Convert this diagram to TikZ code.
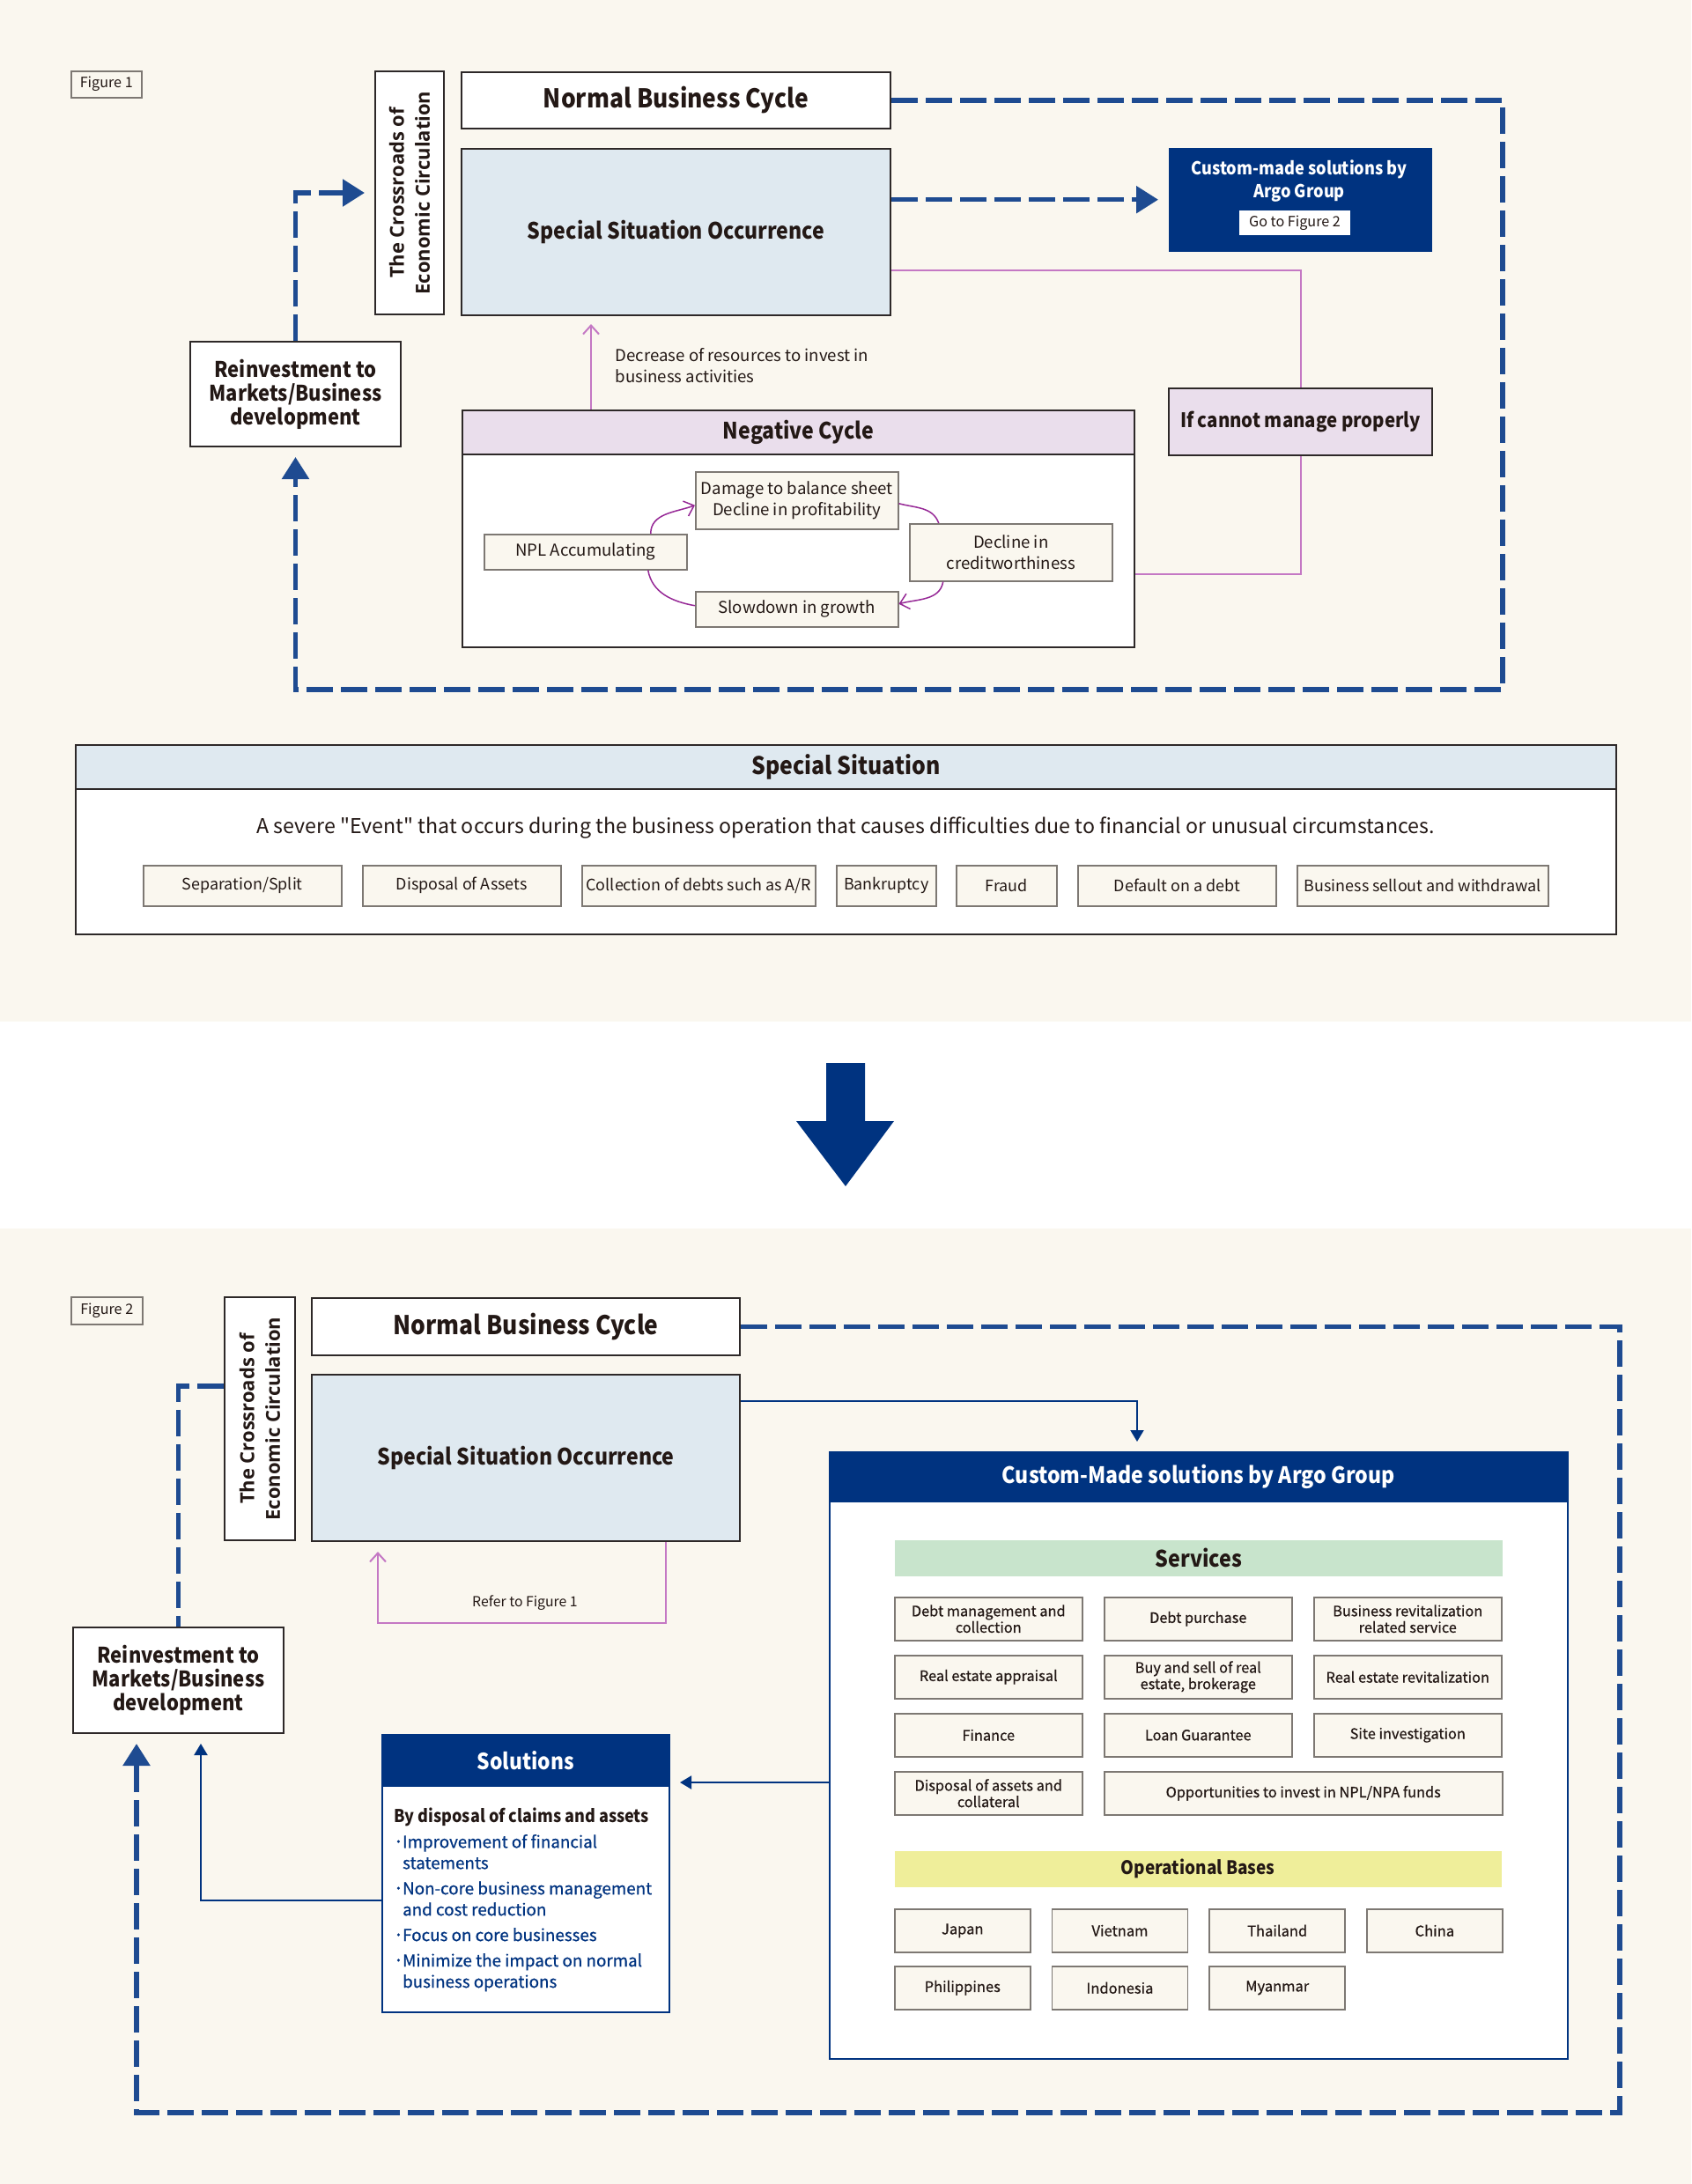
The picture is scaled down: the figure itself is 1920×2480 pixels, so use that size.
\documentclass[tikz,border=0pt]{standalone}
\usepackage{fontspec}
\setmainfont{Noto Sans CJK JP}[BoldFeatures={FakeStretch=0.9}]
\newfontfamily\crossfont{Open Sans}
\newfontfamily\descfont{Noto Sans CJK JP}
\newfontfamily\medfont{Noto Sans CJK JP}[FakeBold=0.6]
\usetikzlibrary{positioning, arrows.meta}
\definecolor{cream}{RGB}{250, 247, 239}
\definecolor{ink}{RGB}{35, 24, 21}
\definecolor{boxline}{RGB}{45, 40, 40}
\definecolor{chipline}{RGB}{125, 120, 115}
\definecolor{navy}{RGB}{0, 51, 128}
\definecolor{dashblue}{RGB}{30, 75, 145}
\definecolor{sslight}{RGB}{223, 233, 240}
\definecolor{lilac}{RGB}{234, 222, 236}
\definecolor{svgreen}{RGB}{200, 228, 204}
\definecolor{opyellow}{RGB}{239, 238, 154}
\definecolor{pinkline}{RGB}{196, 120, 196}
\definecolor{cyclepurple}{RGB}{150, 40, 150}
\newcommand{\fs}[2]{\fontsize{#1pt}{#2pt}\selectfont}
\tikzset{
    panel/.style={draw=boxline, line width=0.2mm, anchor=north west, inner sep=0pt, text=ink, align=center},
    whitebox/.style={panel, fill=white},
    ssbox/.style={panel, fill=sslight},
    lilacbox/.style={panel, fill=lilac},
    chip/.style={draw=chipline, line width=0.15mm, fill=cream, anchor=north west, inner sep=0pt, text=ink, align=center},
    band/.style={anchor=north west, inner sep=0pt, text=ink, align=center},
    navybox/.style={fill=navy, anchor=north west, inner sep=0pt, text=white, align=center},
    navyframe/.style={draw=navy, line width=0.2mm, fill=white, anchor=north west, inner sep=0pt},
    figlabel/.style={chip, font=\fs{4.6}{5.5}},
    crosstext/.style={rotate=90, align=center, text=ink, inner sep=0pt, font=\crossfont\bfseries\fs{6.25}{8.3}},
    titletext/.style={font=\bfseries\fs{8.35}{10}},
    ssotext/.style={font=\bfseries\fs{7.3}{9}},
    reinvtext/.style={font=\bfseries\fs{6.95}{7.7}},
    note/.style={inner sep=0pt, text=ink, align=left, font=\fs{5.3}{6.8}},
    bigdash/.style={draw=dashblue, line width=0.55mm, dash pattern=on 3mm off 0.9mm},
    bighead/.style={-{Triangle[width=3mm, length=2.5mm]}, shorten >=1.1mm},
    navyline/.style={draw=navy, line width=0.2mm, -{Triangle[width=1.5mm, length=1.3mm]}, shorten >=1.1mm},
    pinkpath/.style={draw=pinkline, line width=0.2mm},
    barb/.style={-{Straight Barb[width=1.8mm, length=1mm]}},
    cyclearrow/.style={draw=cyclepurple, line width=0.15mm}
}
\begin{document}
\begin{tikzpicture}[x=0.1mm, y=-0.1mm]
    \useasboundingbox (0,0) rectangle (1920,2480);
    \fill[cream] (0,0) rectangle (1920,1160);
    \fill[white] (0,1160) rectangle (1920,1395);
    \fill[cream] (0,1395) rectangle (1920,2480);

    % Figure 1
    \node[figlabel, minimum width=8mm, minimum height=3mm] (fig1) at (80,80) {Figure 1};
    \node[whitebox, minimum width=7.8mm, minimum height=27.6mm] (cross1) at (425,80) {};
    \node[crosstext] at (cross1.center) {The Crossroads of\\Economic Circulation};
    \node[whitebox, titletext, minimum width=48.7mm, minimum height=6.4mm] (nbc1) at (523,81) {Normal Business Cycle};
    \node[ssbox, ssotext, minimum width=48.7mm, minimum height=18.9mm] (sso1) at (523,168) {Special Situation Occurrence};
    \node[navybox, minimum width=29.9mm, minimum height=11.8mm] (custom1) at (1326,167) {};
    \node[text=white, align=center, inner sep=0pt, font=\bfseries\fs{5.75}{7.4}] (custom1t) at (1475,206) {Custom-made solutions by\\Argo Group};
    \node[fill=white, text=ink, inner sep=0pt, minimum width=12.6mm, minimum height=2.8mm, font=\fs{4.6}{5.5}] (goto1) at (1470,253) {Go to Figure 2};
    \node[lilacbox, font=\bfseries\fs{6.45}{7.5}, minimum width=29.9mm, minimum height=7.6mm] (ifnot1) at (1326,440) {If cannot manage properly};
    \node[whitebox, reinvtext, minimum width=23.9mm, minimum height=11.9mm] (reinv1) at (215,387) {Reinvestment to\\Markets/Business\\development};
    \node[note, anchor=west] (decrease) at (698,415) {Decrease of resources to invest in\\business activities};

    \node[whitebox, minimum width=76.3mm, minimum height=26.9mm] (nc1) at (524,465) {};
    \node[lilacbox, font=\bfseries\fs{7.3}{8.5}, minimum width=76.3mm, minimum height=5mm] (nchead1) at (524,465) {Negative Cycle};
    \node[chip, font=\fs{5.3}{6.6}, minimum width=23mm, minimum height=6.5mm] (damage) at (789,535) {Damage to balance sheet\\Decline in profitability};
    \node[chip, font=\fs{5.3}{6.6}, minimum width=23mm, minimum height=4mm] (npl) at (549,606) {NPL Accumulating};
    \node[chip, font=\fs{5.3}{6.6}, minimum width=23mm, minimum height=6.5mm] (decline) at (1032,594) {Decline in\\creditworthiness};
    \node[chip, font=\fs{5.3}{6.6}, minimum width=23mm, minimum height=4mm] (slowdown) at (789,671) {Slowdown in growth};

    \draw[cyclearrow, barb] ([xshift=7.4mm]npl.north) to[out=90, in=200] ([yshift=-0.55mm]damage.west);
    \draw[cyclearrow] ([yshift=-0.35mm]damage.east) to[out=-15, in=110] ([xshift=-8.2mm]decline.north);
    \draw[cyclearrow, barb] ([xshift=-7.7mm]decline.south) to[out=-100, in=15] ([yshift=0.6mm]slowdown.east);
    \draw[cyclearrow] ([yshift=0.4mm]slowdown.west) to[out=170, in=-80] ([xshift=7.1mm]npl.south);

    \draw[pinkpath, barb, shorten >=0.9mm] ([xshift=-23.55mm]nc1.north) -- ([xshift=-23.55mm]nc1.north |- sso1.south);
    \draw[pinkpath] ([yshift=5.2mm]sso1.south east) -| (ifnot1.north);
    \draw[pinkpath] (ifnot1.south) |- ([yshift=-5.15mm]nc1.east);

    \draw[bigdash, bighead] (sso1.east |- custom1.west) -- (custom1.west);
    \draw[bigdash, bighead] (reinv1.north) |- (cross1.west);
    \coordinate (loop1) at (1706,783);
    \draw[bigdash, bighead] (nbc1.east) -| (loop1) -| (reinv1.south);

    % Special Situation
    \node[whitebox, minimum width=174.9mm, minimum height=21.5mm] (ss) at (85,845) {};
    \node[ssbox, font=\bfseries\fs{7.85}{9}, minimum width=174.9mm, minimum height=5mm] (sshead) at (85,845) {Special Situation};
    \node[text=ink, inner sep=0pt, font=\descfont\fs{6.6}{7.5}] (ssdesc) at (960,940) {A severe "Event" that occurs during the business operation that causes difficulties due to financial or unusual circumstances.};
    \foreach \x/\w/\t [count=\i] in {162/22.5/{Separation/Split}, 411/22.5/{Disposal of Assets}, 660/26.5/{Collection of debts such as A/R}, 949/11.3/{Bankruptcy}, 1085/11.4/{Fraud}, 1223/22.5/{Default on a debt}, 1472/28.5/{Business sellout and withdrawal}}
        \node[chip, font=\fs{5.1}{6}, minimum width=\w mm, minimum height=4.6mm] (ev\i) at (\x,982) {\t};

    \fill[navy] (938,1207) -- (982,1207) -- (982,1273) -- (1015,1273) -- (960,1347) -- (904,1273) -- (938,1273) -- cycle;

    % Figure 2
    \node[figlabel, minimum width=8.1mm, minimum height=3.1mm] (fig2) at (80,1472) {Figure 2};
    \node[whitebox, minimum width=8mm, minimum height=27.6mm] (cross2) at (254,1472) {};
    \node[crosstext] at (cross2.center) {The Crossroads of\\Economic Circulation};
    \node[whitebox, titletext, minimum width=48.6mm, minimum height=6.5mm] (nbc2) at (353,1473) {Normal Business Cycle};
    \node[ssbox, ssotext, minimum width=48.6mm, minimum height=18.9mm] (sso2) at (353,1560) {Special Situation Occurrence};
    \node[whitebox, reinvtext, minimum width=23.9mm, minimum height=12mm] (reinv2) at (82,1847) {Reinvestment to\\Markets/Business\\development};
    \node[note, font=\fs{4.5}{5}] (refer2) at (596,1820) {Refer to Figure 1};
    \coordinate (rbot) at (596,1843);

    \node[navyframe, minimum width=83.8mm, minimum height=68.9mm] (custom2) at (941,1648) {};
    \node[navybox, font=\bfseries\fs{7.3}{8.5}, minimum width=83.8mm, minimum height=5.7mm] (custom2head) at (941,1648) {Custom-Made solutions by Argo Group};
    \node[band, fill=svgreen, font=\bfseries\fs{7.35}{8}, minimum width=69mm, minimum height=4.1mm] (services) at (1015,1748) {Services};
    \foreach \c/\r/\t [count=\i] in {0/0/{Debt management and\\collection}, 1/0/{Debt purchase}, 2/0/{Business revitalization\\related service}, 0/1/{Real estate appraisal}, 1/1/{Buy and sell of real\\estate, brokerage}, 2/1/{Real estate revitalization}, 0/2/{Finance}, 1/2/{Loan Guarantee}, 2/2/{Site investigation}, 0/3/{Disposal of assets and\\collateral}}
        \node[chip, font=\medfont\fs{4.65}{5.3}, minimum width=21.3mm, minimum height=4.9mm] (svc\i) at ({1015+238*\c},{1813+66*\r}) {\t};
    \node[chip, font=\medfont\fs{4.65}{5.3}, minimum width=45.2mm, minimum height=4.9mm] (svc11) at (1253,2011) {Opportunities to invest in NPL/NPA funds};
    \node[band, fill=opyellow, font=\bfseries\fs{6}{7}, minimum width=68.9mm, minimum height=4.1mm] (bases) at (1015,2101) {Operational Bases};
    \foreach \c/\r/\t [count=\i] in {0/0/Japan, 1/0/Vietnam, 2/0/Thailand, 3/0/China, 0/1/Philippines, 1/1/Indonesia, 2/1/Myanmar}
        \node[chip, font=\medfont\fs{4.7}{6}, minimum width=15.4mm, minimum height=4.9mm] (base\i) at ({1015+178.7*\c},{2167+65*\r}) {\t};

    \node[navyframe, minimum width=32.6mm, minimum height=31.5mm] (sol2) at (433,1969) {};
    \node[navybox, font=\bfseries\fs{7.2}{8.5}, minimum width=32.6mm, minimum height=5.9mm] (sol2head) at (433,1969) {Solutions};
    \node[anchor=north west, inner sep=0pt, align=left, text=navy, font=\medfont\fs{5.35}{6.83}] (sol2text) at (447,2052) {{\color{ink}\normalfont\bfseries\fs{5.7}{6.83}By disposal of claims and assets}\\[1.4pt]
        ･Improvement of financial\\
        \phantom{･}statements\\[1.4pt]
        ･Non-core business management\\
        \phantom{･}and cost reduction\\[1.4pt]
        ･Focus on core businesses\\[1.4pt]
        ･Minimize the impact on normal\\
        \phantom{･}business operations};

    \draw[bigdash] ([yshift=3.7mm]cross2.west) -| (reinv2.north);
    \coordinate (loop2) at (1839,2399);
    \draw[bigdash, bighead] (nbc2.east) -| (loop2) -| ([xshift=-4.75mm]reinv2.south);
    \draw[pinkpath, barb, shorten >=1.1mm] ([xshift=15.9mm]sso2.south) |- (rbot) -| ([xshift=-16.8mm]sso2.south);
    \draw[navyline] ([yshift=6.45mm]sso2.east) -| ([xshift=-7mm]custom2.north);
    \draw[navyline] ([yshift=-3.05mm]custom2.west) -- ([yshift=-3.05mm]custom2.west -| sol2.east);
    \draw[navyline] ([yshift=-3.05mm]sol2.west) -| ([xshift=2.55mm]reinv2.south);
\end{tikzpicture}
\end{document}
